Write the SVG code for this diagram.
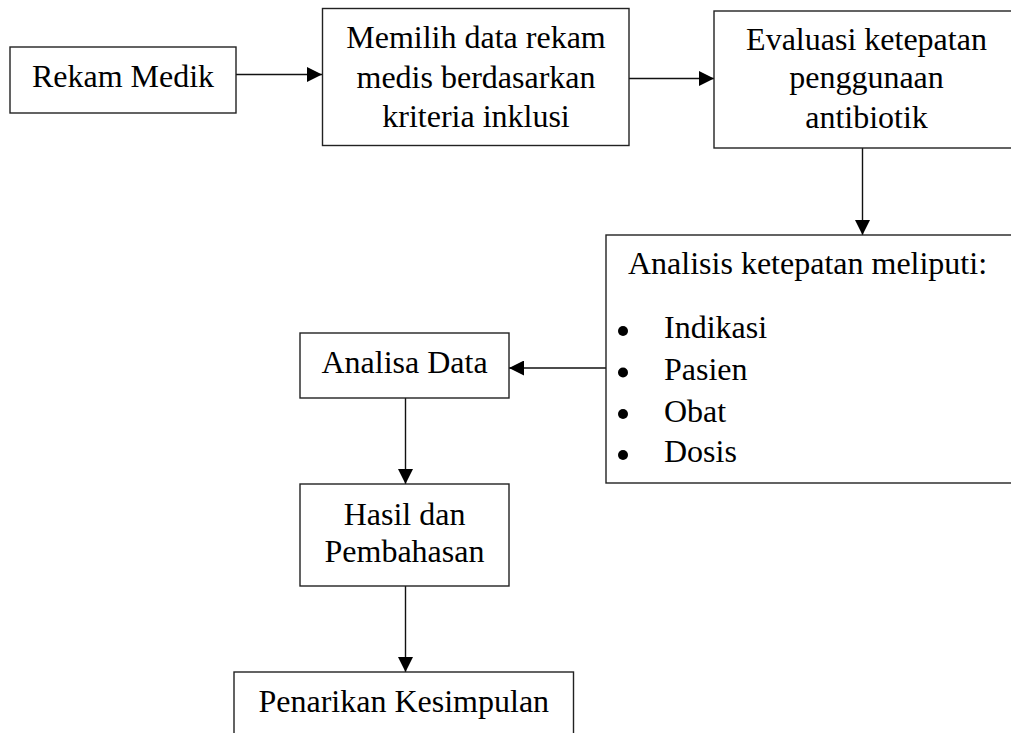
<svg xmlns="http://www.w3.org/2000/svg" width="1011" height="733" viewBox="0 0 1011 733">
<defs>
<style>
.box{fill:#fff;stroke:#222;stroke-width:1.4}
.t{font-family:"Liberation Serif","Times New Roman",serif;font-size:32px;fill:#000}
.c{text-anchor:middle}
.ln{stroke:#111;stroke-width:1.4;fill:none}
.b{fill:#000}
</style>
<marker id="ah" viewBox="0 0 15 15" refX="15" refY="7.5" markerWidth="15" markerHeight="15" markerUnits="userSpaceOnUse" orient="auto">
<path d="M0,0 L15,7.5 L0,15 Z" fill="#000"/>
</marker>
</defs>
<rect width="1011" height="733" fill="#fff"/>
<g id="connectors">
<line class="ln" x1="236" y1="74.5" x2="322" y2="74.5" marker-end="url(#ah)"/>
<line class="ln" x1="629" y1="78.5" x2="714" y2="78.5" marker-end="url(#ah)"/>
<line class="ln" x1="862.5" y1="148" x2="862.5" y2="235" marker-end="url(#ah)"/>
<line class="ln" x1="606" y1="368" x2="509" y2="368" marker-end="url(#ah)"/>
<line class="ln" x1="405.5" y1="398" x2="405.5" y2="484" marker-end="url(#ah)"/>
<line class="ln" x1="405.5" y1="586" x2="405.5" y2="672" marker-end="url(#ah)"/>
</g>
<g id="rekam-medik">
<rect class="box" x="10" y="47" width="226" height="66"/>
<text class="t c" x="123" y="87">Rekam Medik</text>
</g>
<g id="memilih-data">
<rect class="box" x="322.5" y="8.5" width="306.5" height="137"/>
<text class="t c" x="476" y="47.5">Memilih data rekam</text>
<text class="t c" x="476" y="88">medis berdasarkan</text>
<text class="t c" x="476" y="127">kriteria inklusi</text>
</g>
<g id="evaluasi">
<rect class="box" x="714" y="11" width="310" height="137"/>
<text class="t c" x="866.5" y="50">Evaluasi ketepatan</text>
<text class="t c" x="866.5" y="88">penggunaan</text>
<text class="t c" x="866.5" y="128">antibiotik</text>
</g>
<g id="analisis-ketepatan">
<rect class="box" x="606" y="235" width="420" height="248"/>
<text class="t" x="628" y="274">Analisis ketepatan meliputi:</text>
<circle class="b" cx="623" cy="331" r="5"/>
<text class="t" x="664" y="338">Indikasi</text>
<circle class="b" cx="623" cy="372.5" r="5"/>
<text class="t" x="664" y="380">Pasien</text>
<circle class="b" cx="623" cy="414" r="5"/>
<text class="t" x="664" y="421.5">Obat</text>
<circle class="b" cx="623" cy="455" r="5"/>
<text class="t" x="664" y="462">Dosis</text>
</g>
<g id="analisa-data">
<rect class="box" x="300" y="333" width="209" height="65"/>
<text class="t c" x="404.5" y="373">Analisa Data</text>
</g>
<g id="hasil-pembahasan">
<rect class="box" x="300" y="484" width="209" height="102"/>
<text class="t c" x="404.5" y="525">Hasil dan</text>
<text class="t c" x="404.5" y="562">Pembahasan</text>
</g>
<g id="penarikan-kesimpulan">
<rect class="box" x="234" y="672" width="339.5" height="80"/>
<text class="t c" x="403.8" y="711.5">Penarikan Kesimpulan</text>
</g>
</svg>
